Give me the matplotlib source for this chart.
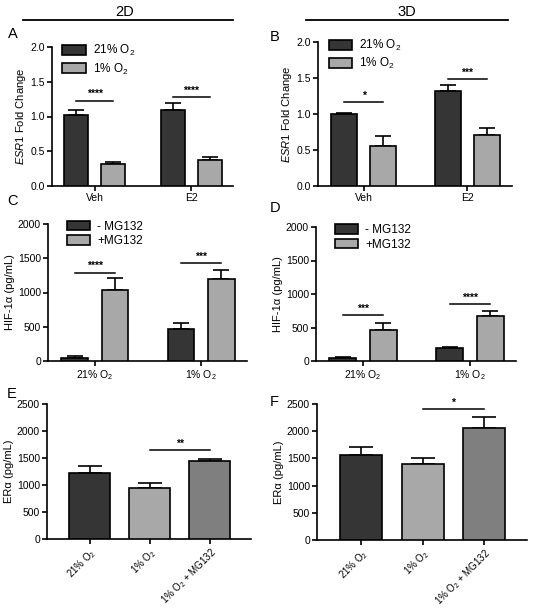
import matplotlib.pyplot as plt
from matplotlib.lines import Line2D
from matplotlib.patches import Patch
import numpy as np

plt.rcParams['font.family'] = ['Liberation Sans', 'DejaVu Sans']
plt.rcParams['mathtext.fontset'] = 'custom'
plt.rcParams['mathtext.rm'] = 'Liberation Sans'
plt.rcParams['mathtext.it'] = 'Liberation Sans:italic'

DARK = '#353535'
LIGHT = '#a8a8a8'
MID = '#7f7f7f'

# panel A/B: ESR1 fold change
esr_groups = ['Veh', 'E2']
esr_series = ['21% O$_2$', '1% O$_2$']
a_21 = [1.02, 1.09]
a_21_err = [0.07, 0.11]
a_1 = [0.32, 0.38]
a_1_err = [0.03, 0.04]
a_stars = ['****', '****']
a_star_y = [1.23, 1.28]

b_21 = [1.00, 1.32]
b_21_err = [0.02, 0.08]
b_1 = [0.55, 0.71]
b_1_err = [0.15, 0.09]
b_stars = ['*', '***']
b_star_y = [1.16, 1.48]

# panel C/D: HIF-1a
hif_groups = ['21% O$_2$', '1% O$_2$']
hif_series = ['- MG132', '+MG132']
c_minus = [50, 460]
c_minus_err = [20, 90]
c_plus = [1030, 1190]
c_plus_err = [180, 145]
c_stars = ['****', '***']
c_star_y = [1290, 1430]

d_minus = [40, 190]
d_minus_err = [20, 15]
d_plus = [460, 670]
d_plus_err = [110, 80]
d_stars = ['***', '****']
d_star_y = [680, 850]

# panel E/F: ERa
er_labels = ['21% O$_2$', '1% O$_2$', '1% O$_2$ + MG132']
e_vals = [1230, 950, 1440]
e_err = [130, 80, 50]
f_vals = [1570, 1390, 2050]
f_err = [140, 120, 220]

fig = plt.figure(figsize=(5.33, 6.11), dpi=100)


def style(ax):
    for s in ['top', 'right']:
        ax.spines[s].set_visible(False)
    for s in ['left', 'bottom']:
        ax.spines[s].set_linewidth(1.2)
    ax.tick_params(labelsize=7.5, width=1.2, length=3.5, pad=1.5)


def grouped(ax, g1, e1, g2, e2, groups, series, stars, star_y, ylim, yticks, ylabel, legx):
    x = np.arange(len(groups))
    w, off = 0.25, 0.19
    ax.bar(x - off, g1, w, color=DARK, edgecolor='black', linewidth=1.2, zorder=3)
    ax.bar(x + off, g2, w, color=LIGHT, edgecolor='black', linewidth=1.2, zorder=3)
    ax.errorbar(x - off, g1, yerr=[np.zeros(len(g1)), e1], fmt='none', ecolor='black',
                elinewidth=1.2, capsize=5.5, capthick=1.2, zorder=2)
    ax.errorbar(x + off, g2, yerr=[np.zeros(len(g2)), e2], fmt='none', ecolor='black',
                elinewidth=1.2, capsize=5.5, capthick=1.2, zorder=2)
    for xi, s, yy in zip(x, stars, star_y):
        ax.plot([xi - off, xi + off], [yy, yy], color='black', lw=1.1)
        ax.text(xi, yy + (ylim[1] * 0.012), s, ha='center', va='bottom', fontsize=7.5,
                fontweight='bold')
    ax.set_xlim(-0.44, 1.43)
    ax.set_ylim(*ylim)
    ax.set_yticks(yticks)
    ax.set_xticks(x)
    ax.set_xticklabels(groups)
    ax.set_ylabel(ylabel, fontsize=8, labelpad=2)
    style(ax)
    handles = [Patch(facecolor=DARK, edgecolor='black', linewidth=1.2),
               Patch(facecolor=LIGHT, edgecolor='black', linewidth=1.2)]
    ax.legend(handles, series, loc='upper left', bbox_to_anchor=(legx, 1.06), frameon=False,
              fontsize=8.5, handlelength=2.0, handleheight=0.9, labelspacing=0.25,
              handletextpad=0.6, borderaxespad=0)


def single(ax, vals, err, star_y, star, ylim):
    x = np.arange(len(vals))
    ax.bar(x, vals, 0.68, color=[DARK, LIGHT, MID], edgecolor='black', linewidth=1.2, zorder=3)
    ax.errorbar(x, vals, yerr=[np.zeros(len(vals)), err], fmt='none', ecolor='black',
                elinewidth=1.2, capsize=8.5, capthick=1.2, zorder=2)
    ax.plot([1, 2], [star_y, star_y], color='black', lw=1.1)
    ax.text(1.5, star_y + 30, star, ha='center', va='bottom', fontsize=7.5, fontweight='bold')
    ax.set_xlim(-0.71, 2.69)
    ax.set_ylim(*ylim)
    ax.set_yticks(np.arange(0, 2501, 500))
    ax.set_xticks(x)
    ax.set_ylabel('ER\u03b1 (pg/mL)', fontsize=8, labelpad=2)
    style(ax)
    ax.set_xticklabels(er_labels, rotation=45, ha='right', rotation_mode='anchor', fontsize=7)


W, H = 533, 611


def box(l, t, r, b):
    return [l / W, 1 - b / H, (r - l) / W, (b - t) / H]


axA = fig.add_axes(box(52, 47, 233, 186))
grouped(axA, a_21, a_21_err, a_1, a_1_err, esr_groups, esr_series, a_stars, a_star_y,
        (0, 2.0), [0, 0.5, 1.0, 1.5, 2.0], '$\\it{ESR1}$ Fold Change', 0.03)
axA.set_yticklabels(['0.0', '0.5', '1.0', '1.5', '2.0'])

axB = fig.add_axes(box(318, 42, 512, 186))
grouped(axB, b_21, b_21_err, b_1, b_1_err, esr_groups, esr_series, b_stars, b_star_y,
        (0, 2.0), [0, 0.5, 1.0, 1.5, 2.0], '$\\it{ESR1}$ Fold Change', 0.03)
axB.set_yticklabels(['0.0', '0.5', '1.0', '1.5', '2.0'])

axC = fig.add_axes(box(48, 224, 247, 361))
grouped(axC, c_minus, c_minus_err, c_plus, c_plus_err, hif_groups, hif_series, c_stars,
        c_star_y, (0, 2000), [0, 500, 1000, 1500, 2000], 'HIF-1\u03b1 (pg/mL)', 0.07)

axD = fig.add_axes(box(316, 227, 516, 361))
grouped(axD, d_minus, d_minus_err, d_plus, d_plus_err, hif_groups, hif_series, d_stars,
        d_star_y, (0, 2000), [0, 500, 1000, 1500, 2000], 'HIF-1\u03b1 (pg/mL)', 0.07)

axE = fig.add_axes(box(47, 404, 251, 539))
single(axE, e_vals, e_err, 1640, '**', (0, 2500))

axF = fig.add_axes(box(317, 404, 527, 540))
single(axF, f_vals, f_err, 2400, '*', (0, 2500))

# column headers
fig.text(125 / W, 1 - 12 / H, '2D', ha='center', va='center', fontsize=10.5)
fig.add_artist(Line2D([23 / W, 233 / W], [1 - 20 / H, 1 - 20 / H], color='black', lw=1.3))
fig.text(407 / W, 1 - 12 / H, '3D', ha='center', va='center', fontsize=10.5)
fig.add_artist(Line2D([306 / W, 508 / W], [1 - 20 / H, 1 - 20 / H], color='black', lw=1.3))

# panel letters
for lab, px, py in [('A', 8, 34), ('B', 270, 37), ('C', 7, 201), ('D', 270, 208),
                    ('E', 7, 394), ('F', 270, 402)]:
    fig.text(px / W, 1 - py / H, lab, ha='left', va='center', fontsize=10.5)

fig.savefig('out.png', dpi=100)
